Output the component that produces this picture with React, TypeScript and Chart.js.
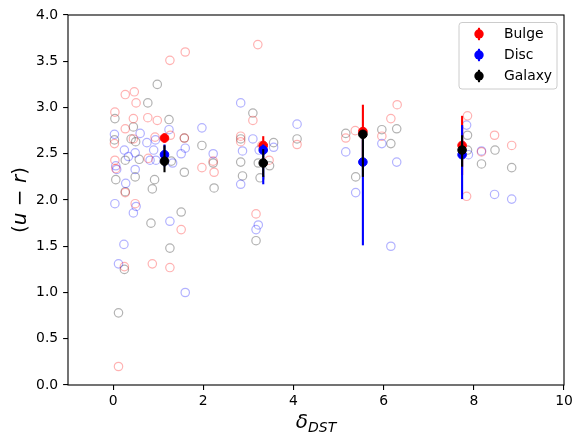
import { useEffect, useRef } from "react";
import { Chart, registerables } from "chart.js";

Chart.register(...registerables);

// ---------- data ----------
const xTicks = [0, 2, 4, 6, 8, 10];
const yTicks = [0, 0.5, 1, 1.5, 2, 2.5, 3, 3.5, 4];
const seriesNames = ["Bulge", "Disc", "Galaxy"];

// individual galaxies (hollow circles)
const bulgePoints: [number, number][] = [
  [0.04, 2.95], [0.04, 2.43], [0.06, 2.34], [0.03, 2.61], [0.12, 0.2], [0.25, 1.28],
  [0.27, 3.14], [0.27, 2.77], [0.27, 2.08], [0.47, 3.17], [0.51, 3.05], [0.45, 2.88],
  [0.49, 1.96], [0.45, 2.66], [0.77, 2.89], [0.78, 2.45], [0.87, 1.31], [0.93, 2.68],
  [0.98, 2.86], [1.26, 3.51], [1.27, 2.7], [1.26, 1.27], [1.51, 1.68], [1.6, 3.6],
  [1.58, 2.67], [1.97, 2.35], [2.22, 2.42], [2.24, 2.3],
  [2.83, 2.69], [2.83, 2.63], [3.1, 2.86], [3.17, 1.85], [3.21, 3.68], [3.3, 2.59],
  [3.46, 2.43], [4.08, 2.6],
  [5.16, 2.67], [5.37, 2.75], [5.96, 2.69], [6.16, 2.88], [6.3, 3.03],
  [7.86, 2.91], [7.84, 2.04], [8.17, 2.52], [8.46, 2.7], [8.84, 2.59],
];
const discPoints: [number, number][] = [
  [0.03, 2.71], [0.04, 1.96], [0.06, 2.37], [0.08, 2.33], [0.12, 1.31], [0.24, 1.52],
  [0.25, 2.54], [0.28, 2.18], [0.34, 2.47], [0.45, 1.86], [0.49, 2.51], [0.49, 2.33],
  [0.51, 1.93], [0.6, 2.72], [0.75, 2.62], [0.82, 2.43], [0.9, 2.54], [0.95, 2.43],
  [0.94, 2.65], [1.24, 2.76], [1.26, 1.77], [1.32, 2.4], [1.51, 2.5], [1.6, 2.56],
  [1.6, 1.0], [1.97, 2.78], [2.22, 2.5],
  [2.83, 3.05], [2.87, 2.53], [2.83, 2.17], [3.1, 2.66], [3.17, 1.68], [3.22, 1.73],
  [3.24, 2.54], [3.56, 2.57], [4.08, 2.82],
  [5.16, 2.52], [5.38, 2.08], [5.96, 2.61], [6.16, 1.5], [6.29, 2.41],
  [7.84, 2.81], [7.88, 2.49], [8.17, 2.53], [8.46, 2.06], [8.84, 2.01],
];
const galaxyPoints: [number, number][] = [
  [0.04, 2.88], [0.03, 2.65], [0.06, 2.22], [0.12, 0.78], [0.25, 1.25], [0.27, 2.09],
  [0.27, 2.43], [0.4, 2.66], [0.45, 2.79], [0.5, 2.63], [0.49, 2.25], [0.58, 2.44],
  [0.77, 3.05], [0.84, 1.75], [0.87, 2.12], [0.92, 2.22], [0.98, 3.25], [1.24, 2.87],
  [1.29, 2.42], [1.26, 1.48], [1.51, 1.87], [1.58, 2.67], [1.58, 2.3], [1.97, 2.59],
  [2.22, 2.4], [2.24, 2.13],
  [2.83, 2.66], [2.83, 2.41], [2.87, 2.26], [3.1, 2.94], [3.17, 1.56], [3.22, 2.4],
  [3.26, 2.24], [3.47, 2.37], [3.56, 2.62], [4.08, 2.66],
  [5.16, 2.72], [5.38, 2.25], [5.96, 2.76], [6.16, 2.61], [6.29, 2.77],
  [7.86, 2.7], [7.86, 2.54], [8.17, 2.39], [8.47, 2.54], [8.84, 2.35],
];

// binned means with error bars
const binX = [1.14, 3.33, 5.54, 7.74];
const bulgeMean = [2.67, 2.59, 2.74, 2.59];
const bulgeLow = [2.62, 2.49, 2.45, 2.27];
const bulgeHigh = [2.72, 2.69, 3.03, 2.91];
const discMean = [2.49, 2.54, 2.41, 2.49];
const discLow = [2.36, 2.17, 1.51, 2.01];
const discHigh = [2.6, 2.6, 2.7, 2.81];
const galaxyMean = [2.42, 2.4, 2.71, 2.54];
const galaxyLow = [2.3, 2.25, 2.25, 2.36];
const galaxyHigh = [2.59, 2.55, 2.75, 2.7];

const FONT = "'DejaVu Sans', sans-serif";
const solid = ["#ff0000", "#0000ff", "#000000"];
const faint = ["rgba(255,0,0,0.3)", "rgba(0,0,255,0.3)", "rgba(0,0,0,0.3)"];

const decorPlugin = {
  id: "decor",
  afterDatasetsDraw(chart: any) {
    const { ctx, chartArea: a } = chart;
    ctx.save();
    ctx.strokeStyle = "#000";
    ctx.lineWidth = 1.1;
    ctx.strokeRect(a.left, a.top, a.right - a.left, a.bottom - a.top);
    ctx.restore();
  },
  afterDraw(chart: any) {
    const { ctx, chartArea: a } = chart;
    ctx.save();
    // legend
    const lx = a.right - 7, ly = a.top + 7.5, lw = 98, lh = 66.5;
    const x0 = lx - lw;
    const r = 3;
    ctx.beginPath();
    ctx.moveTo(x0 + r, ly);
    ctx.lineTo(lx - r, ly);
    ctx.quadraticCurveTo(lx, ly, lx, ly + r);
    ctx.lineTo(lx, ly + lh - r);
    ctx.quadraticCurveTo(lx, ly + lh, lx - r, ly + lh);
    ctx.lineTo(x0 + r, ly + lh);
    ctx.quadraticCurveTo(x0, ly + lh, x0, ly + lh - r);
    ctx.lineTo(x0, ly + r);
    ctx.quadraticCurveTo(x0, ly, x0 + r, ly);
    ctx.closePath();
    ctx.fillStyle = "rgba(255,255,255,0.8)";
    ctx.fill();
    ctx.strokeStyle = "#cccccc";
    ctx.lineWidth = 1;
    ctx.stroke();
    seriesNames.forEach((name, i) => {
      const cy = ly + 11.5 + i * 21;
      const mx = x0 + 20;
      ctx.strokeStyle = solid[i];
      ctx.lineWidth = 2.1;
      ctx.beginPath();
      ctx.moveTo(mx, cy - 6.2);
      ctx.lineTo(mx, cy + 6.2);
      ctx.stroke();
      ctx.fillStyle = solid[i];
      ctx.beginPath();
      ctx.arc(mx, cy, 4.7, 0, Math.PI * 2);
      ctx.fill();
      ctx.fillStyle = "#000";
      ctx.font = `13.9px ${FONT}`;
      ctx.textBaseline = "middle";
      ctx.textAlign = "left";
      ctx.fillText(name, x0 + 45, cy + 0.5);
    });

    // x title: delta_DST
    const cx = (a.left + a.right) / 2;
    ctx.fillStyle = "#000";
    ctx.textBaseline = "alphabetic";
    const bigF = `italic 20px ${FONT}`;
    const subF = `italic 14px ${FONT}`;
    ctx.font = bigF;
    const w1 = ctx.measureText("δ").width;
    ctx.font = subF;
    const w2 = ctx.measureText("DST").width;
    const start = cx - (w1 + w2) / 2;
    ctx.font = bigF;
    ctx.textAlign = "left";
    ctx.fillText("δ", start, 428);
    ctx.font = subF;
    ctx.fillText("DST", start + w1, 432);

    // y title: (u − r)
    const parts: [string, boolean][] = [["(", false], ["u", true], [" − ", false], ["r", true], [")", false]];
    ctx.translate(26, (a.top + a.bottom) / 2);
    ctx.rotate(-Math.PI / 2);
    let total = 0;
    const widths = parts.map(([t, it]) => {
      ctx.font = `${it ? "italic " : ""}20px ${FONT}`;
      const w = ctx.measureText(t).width;
      total += w;
      return w;
    });
    let px = -total / 2;
    parts.forEach(([t, it], i) => {
      ctx.font = `${it ? "italic " : ""}20px ${FONT}`;
      ctx.fillText(t, px, 0);
      px += widths[i];
    });
    ctx.restore();
  },
};

export default function App() {
  const ref = useRef<HTMLCanvasElement | null>(null);
  useEffect(() => {
    if (!ref.current) return;
    const toXY = (p: [number, number][]) => p.map(([x, y]) => ({ x, y }));
    const datasets: any[] = [];
    const scatterSets = [bulgePoints, discPoints, galaxyPoints];
    scatterSets.forEach((pts, i) => {
      datasets.push({
        label: seriesNames[i] + " points",
        data: toXY(pts),
        pointRadius: 4.2,
        pointHoverRadius: 4.2,
        pointBorderWidth: 1.2,
        borderColor: faint[i],
        backgroundColor: "rgba(0,0,0,0)",
        pointStyle: "circle",
        order: 100,
      });
    });
    const means = [bulgeMean, discMean, galaxyMean];
    const lows = [bulgeLow, discLow, galaxyLow];
    const highs = [bulgeHigh, discHigh, galaxyHigh];
    [0, 1, 2].forEach((s) => {
      binX.forEach((x, i) => {
        datasets.push({
          label: seriesNames[s] + " err",
          data: [{ x, y: lows[s][i] }, { x, y: highs[s][i] }],
          showLine: true,
          borderColor: solid[s],
          backgroundColor: solid[s],
          borderWidth: 2.1,
          pointRadius: 0,
          order: 60 - s * 20,
        });
      });
      datasets.push({
        label: seriesNames[s],
        data: binX.map((x, i) => ({ x, y: means[s][i] })),
        pointRadius: 4.3,
        pointHoverRadius: 4.3,
        pointBorderWidth: 1,
        borderColor: solid[s],
        backgroundColor: solid[s],
        order: 50 - s * 20,
      });
    });

    const tickFont = { family: FONT, size: 13.9 };
    const chart = new Chart(ref.current, {
      type: "scatter",
      data: { datasets },
      options: {
        animation: false,
        responsive: true,
        maintainAspectRatio: false,
        layout: { padding: { top: 15, right: 19, left: 0, bottom: 0 } },
        plugins: { legend: { display: false }, tooltip: { enabled: false } },
        events: [],
        scales: {
          x: {
            type: "linear",
            min: -1,
            max: 10,
            afterBuildTicks: (scale: any) => {
              scale.ticks = xTicks.map((v) => ({ value: v }));
            },
            afterFit: (scale: any) => {
              scale.height = 60;
            },
            ticks: { font: tickFont, color: "#000", padding: 3, callback: (v: any) => String(v) },
            grid: { drawOnChartArea: false, drawTicks: true, tickLength: 4.9, color: "#000", lineWidth: 1.1 },
            border: { display: false },
          },
          y: {
            type: "linear",
            min: 0,
            max: 4,
            afterBuildTicks: (scale: any) => {
              scale.ticks = yTicks.map((v) => ({ value: v }));
            },
            afterFit: (scale: any) => {
              scale.width = 68;
            },
            ticks: { font: tickFont, color: "#000", padding: 4.9, callback: (v: any) => Number(v).toFixed(1) },
            grid: { drawOnChartArea: false, drawTicks: true, tickLength: 4.9, color: "#000", lineWidth: 1.1 },
            border: { display: false },
          },
        },
      },
      plugins: [decorPlugin],
    } as any);
    return () => chart.destroy();
  }, []);

  return (
    <div style={{ position: "fixed", left: 0, top: 0, width: 583, height: 445, background: "#fff" }}>
      <canvas ref={ref} />
    </div>
  );
}
